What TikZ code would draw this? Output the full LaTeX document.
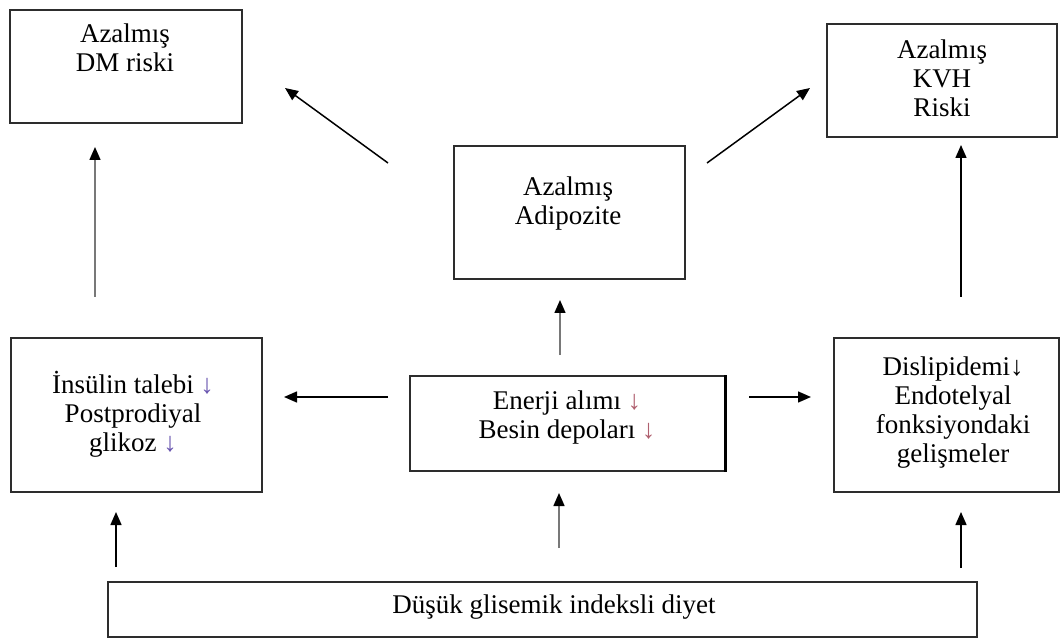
\documentclass[tikz,border=0pt]{standalone}
\usepackage{fontspec}
\setmainfont{Liberation Serif}
\usetikzlibrary{arrows.meta}
\definecolor{boxline}{RGB}{45,45,45}
\definecolor{insarrow}{RGB}{105,85,175}
\definecolor{enarrow}{RGB}{175,95,110}
\definecolor{greyshaft}{RGB}{120,120,120}
\tikzset{
  box/.style={draw=boxline, line width=1.4pt, rectangle, inner sep=0pt},
  lbl/.style={align=center, inner sep=0pt, font=\fontsize{27}{29}\selectfont},
  arr/.style={-{Triangle[length=13pt,width=11pt]}, line width=1.5pt, draw=black},
  garr/.style={-{Triangle[length=13pt,width=11pt,color=black]}, line width=1.5pt, draw=greyshaft},
}
\begin{document}
\begin{tikzpicture}[x=1pt,y=-1pt]
\useasboundingbox (0,0) rectangle (1061,639);
% boxes
\node[box, minimum width=232pt, minimum height=113pt] (dm)  at (126,66.5) {};
\node[box, minimum width=230pt, minimum height=113pt] (kvh) at (942,80.5) {};
\node[box, minimum width=231pt, minimum height=133pt] (adi) at (569.5,212.5) {};
\node[box, minimum width=251pt, minimum height=154pt] (ins) at (136.5,415) {};
\node[box, minimum width=315pt, minimum height=95pt]  (ene) at (567.5,423.5) {};
\node[box, minimum width=225pt, minimum height=154pt] (dis) at (946.5,415) {};
\node[box, minimum width=869pt, minimum height=55pt]  (bot) at (542.5,609.5) {};
\draw[line width=2.6pt, draw=black] (ene.north east) -- (ene.south east);
% labels
\node[lbl] (dmt)  at (125,48) {Azalmış\\DM riski};
\node[lbl] (kvht) at (942,78) {Azalmış\\KVH\\Riski};
\node[lbl] (adit) at (568,204) {Azalmış\\Adipozite};
\node[lbl] (inst) at (133,414) {İnsülin talebi {\color{insarrow}↓}\\Postprodiyal\\glikoz {\color{insarrow}↓}};
\node[lbl] (enet) at (567,418) {Enerji alımı {\color{enarrow}↓}\\Besin depoları {\color{enarrow}↓}};
\node[lbl] (dist) at (953,413) {Dislipidemi↓\\Endotelyal\\fonksiyondaki\\gelişmeler};
\node[lbl] (bott) at (554,607) {Düşük glisemik indeksli diyet};
% arrow end points
\coordinate (a1s) at (95,297);  \coordinate (a1e) at (95,147);
\coordinate (a2s) at (961,297); \coordinate (a2e) at (961,145);
\coordinate (a3s) at (560,355); \coordinate (a3e) at (560,300);
\coordinate (a4s) at (388,163); \coordinate (a4e) at (285,88);
\coordinate (a5s) at (707,163); \coordinate (a5e) at (810,88);
\coordinate (a6s) at (388,397); \coordinate (a6e) at (284,397);
\coordinate (a7s) at (749,397); \coordinate (a7e) at (811,397);
\coordinate (a8s) at (116,567); \coordinate (a8e) at (116,512);
\coordinate (a9s) at (559,548); \coordinate (a9e) at (559,493);
\coordinate (a10s) at (961,568); \coordinate (a10e) at (961,512);
% connectors
\draw[garr] (a1s) -- (a1e);
\draw[arr]  (a2s) -- (a2e);
\draw[garr] (a3s) -- (a3e);
\draw[arr]  (a4s) -- (a4e);
\draw[arr]  (a5s) -- (a5e);
\draw[arr]  (a6s) -- (a6e);
\draw[arr]  (a7s) -- (a7e);
\draw[arr]  (a8s) -- (a8e);
\draw[garr] (a9s) -- (a9e);
\draw[arr]  (a10s) -- (a10e);
\end{tikzpicture}
\end{document}
